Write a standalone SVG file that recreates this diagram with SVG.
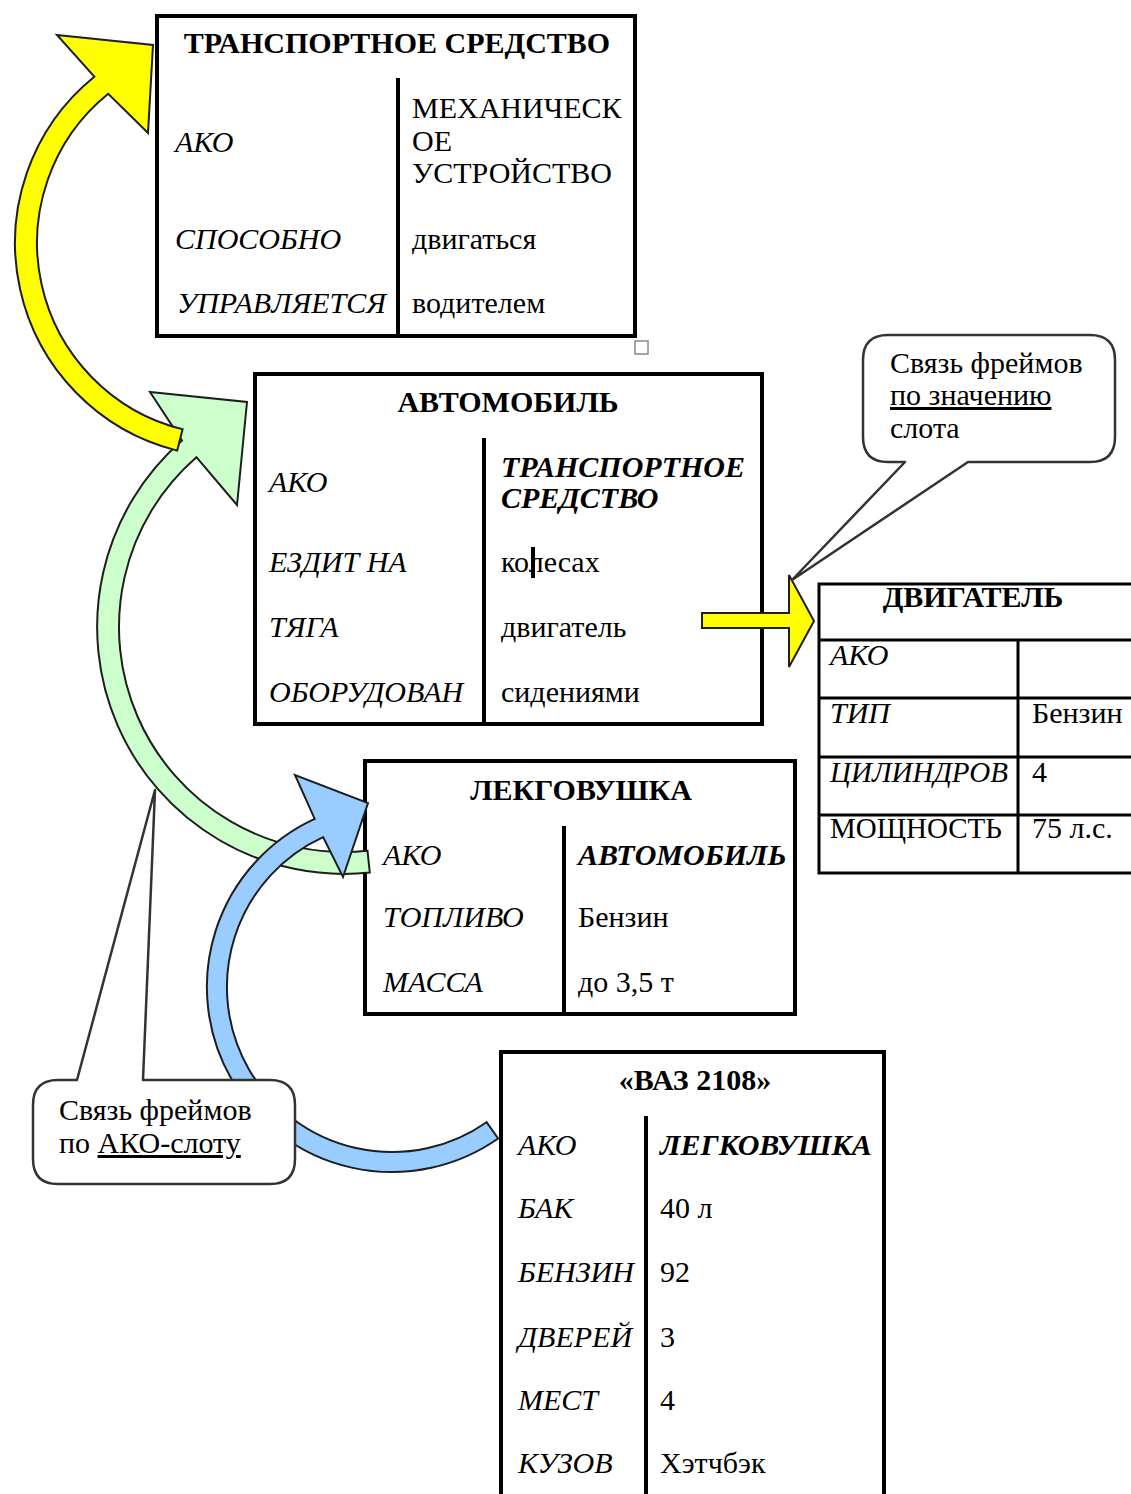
<svg xmlns="http://www.w3.org/2000/svg" width="1131" height="1494" viewBox="0 0 1131 1494">
  <style>
    .t { font-family: "Liberation Serif", "Times New Roman", serif; font-size: 30px; fill: #000; }
    .b { font-weight: bold; }
    .i { font-style: italic; }
    .frame { fill: #fff; stroke: #000; stroke-width: 4; }
    .div { stroke: #000; stroke-width: 4; }
    .grid { stroke: #000; stroke-width: 3; fill: none; }
    .callout { fill: #fff; stroke: #333; stroke-width: 2.5; stroke-linejoin: round; }
    .arr { stroke: #1e1e1e; stroke-width: 2; stroke-linejoin: miter; }
    .u { text-decoration: underline; }
  </style>
  <rect width="1131" height="1494" fill="#fff"/>

  <!-- frames -->
  <g id="frame-transport">
    <rect class="frame" x="157" y="16" width="478" height="320"/>
    <line class="div" x1="398" y1="78" x2="398" y2="336"/>
    <text class="t b" x="397" y="53" text-anchor="middle">ТРАНСПОРТНОЕ СРЕДСТВО</text>
    <text class="t i" x="175" y="152">АКО</text>
    <text class="t i" x="175" y="249">СПОСОБНО</text>
    <text class="t i" x="177" y="313">УПРАВЛЯЕТСЯ</text>
    <text class="t" x="412" y="118">МЕХАНИЧЕСК</text>
    <text class="t" x="412" y="151">ОЕ</text>
    <text class="t" x="412" y="183">УСТРОЙСТВО</text>
    <text class="t" x="412" y="249">двигаться</text>
    <text class="t" x="412" y="313">водителем</text>
    <rect x="635" y="341" width="13" height="13" fill="#fff" stroke="#888" stroke-width="1.5"/>
  </g>

  <g id="frame-auto">
    <rect class="frame" x="255" y="374" width="507" height="350"/>
    <line class="div" x1="484" y1="438" x2="484" y2="724"/>
    <text class="t b" x="508" y="412" text-anchor="middle">АВТОМОБИЛЬ</text>
    <text class="t i" x="269" y="492">АКО</text>
    <text class="t i" x="269" y="572">ЕЗДИТ НА</text>
    <text class="t i" x="269" y="637">ТЯГА</text>
    <text class="t i" x="269" y="702">ОБОРУДОВАН</text>
    <text class="t b i" x="501" y="477">ТРАНСПОРТНОЕ</text>
    <text class="t b i" x="501" y="508">СРЕДСТВО</text>
    <text class="t" x="501" y="572">колесах</text>
    <rect x="531" y="547" width="4" height="31" fill="#000"/>
    <text class="t" x="501" y="637">двигатель</text>
    <text class="t" x="501" y="702">сидениями</text>
  </g>

  <g id="frame-car">
    <rect class="frame" x="365" y="761" width="430" height="253"/>
    <line class="div" x1="564" y1="826" x2="564" y2="1014"/>
    <text class="t b" x="581" y="800" text-anchor="middle">ЛЕКГОВУШКА</text>
    <text class="t i" x="383" y="865">АКО</text>
    <text class="t i" x="383" y="927">ТОПЛИВО</text>
    <text class="t i" x="383" y="992">МАССА</text>
    <text class="t b i" x="578" y="865">АВТОМОБИЛЬ</text>
    <text class="t" x="578" y="927">Бензин</text>
    <text class="t" x="578" y="992">до 3,5 т</text>
  </g>

  <g id="frame-vaz">
    <rect class="frame" x="501" y="1052" width="383" height="470"/>
    <line class="div" x1="646" y1="1116" x2="646" y2="1500"/>
    <text class="t b" x="695" y="1090" text-anchor="middle">«ВАЗ 2108»</text>
    <text class="t i" x="518" y="1155">АКО</text>
    <text class="t i" x="518" y="1218">БАК</text>
    <text class="t i" x="518" y="1282">БЕНЗИН</text>
    <text class="t i" x="518" y="1347">ДВЕРЕЙ</text>
    <text class="t i" x="518" y="1410">МЕСТ</text>
    <text class="t i" x="518" y="1473">КУЗОВ</text>
    <text class="t b i" x="660" y="1155">ЛЕГКОВУШКА</text>
    <text class="t" x="660" y="1218">40 л</text>
    <text class="t" x="660" y="1282">92</text>
    <text class="t" x="660" y="1347">3</text>
    <text class="t" x="660" y="1410">4</text>
    <text class="t" x="660" y="1473">Хэтчбэк</text>
  </g>

  <g id="frame-engine">
    <rect class="grid" x="819" y="584" width="340" height="289"/>
    <line class="grid" x1="819" y1="640" x2="1140" y2="640"/>
    <line class="grid" x1="819" y1="698" x2="1140" y2="698"/>
    <line class="grid" x1="819" y1="757" x2="1140" y2="757"/>
    <line class="grid" x1="819" y1="815" x2="1140" y2="815"/>
    <line class="grid" x1="1018" y1="640" x2="1018" y2="873"/>
    <text class="t b" x="973" y="607" text-anchor="middle">ДВИГАТЕЛЬ</text>
    <text class="t i" x="830" y="665">АКО</text>
    <text class="t i" x="830" y="723">ТИП</text>
    <text class="t" x="1032" y="723">Бензин</text>
    <text class="t i" x="830" y="782" style="font-size:29px">ЦИЛИНДРОВ</text>
    <text class="t" x="1032" y="782">4</text>
    <text class="t" x="830" y="838" style="font-size:29px">МОЩНОСТЬ</text>
    <text class="t" x="1032" y="838">75 л.с.</text>
  </g>

  <!-- connectors: curved AKO arrows and the slot-value arrow -->
  <g id="connectors">
    <path class="arr" fill="#ccffcc" d="M 369.8,872.6 A 247 247 0 0 1 182,440.6 L 150,392 L 247,402 L 237,505 L 196.4,457.2 A 225 225 0 0 0 367.5,850.8 Z"/>
    <path class="arr" fill="#ffff00" d="M 177.2,450.6 A 214 214 0 0 1 94.3,76.7 L 57,35 L 153,45 L 148,133 L 108.2,93.8 A 192 192 0 0 0 182.6,429.3 Z"/>
    <path class="arr" fill="#99ccff" d="M 498.1,1138.5 A 185 185 0 1 1 314.7,818.9 L 295,775 L 368,803 L 343,877 L 323.1,837.1 A 165 165 0 1 0 486.6,1122.2 Z"/>
    <path class="arr" fill="#ffff00" d="M 702,613 H 789 V 575 L 814,621 L 789,667 V 628 H 702 Z"/>
  </g>

  <!-- callouts -->
  <g id="callout-value">
    <path class="callout" d="M 888,335 H 1090 Q 1115,335 1115,360 V 437 Q 1115,462 1090,462 H 968 L 792,580 L 905,462 H 888 Q 863,462 863,437 V 360 Q 863,335 888,335 Z"/>
    <text class="t" x="890" y="373">Связь фреймов</text>
    <text class="t u" x="890" y="405">по значению</text>
    <text class="t" x="890" y="438">слота</text>
  </g>

  <g id="callout-ako">
    <path class="callout" d="M 58,1080 H 77 L 155,790 L 143,1080 H 270 Q 295,1080 295,1105 V 1159 Q 295,1184 270,1184 H 58 Q 33,1184 33,1159 V 1105 Q 33,1080 58,1080 Z"/>
    <text class="t" x="59" y="1120">Связь фреймов</text>
    <text class="t" x="59" y="1153">по <tspan class="u">АКО-слоту</tspan></text>
  </g>
</svg>
